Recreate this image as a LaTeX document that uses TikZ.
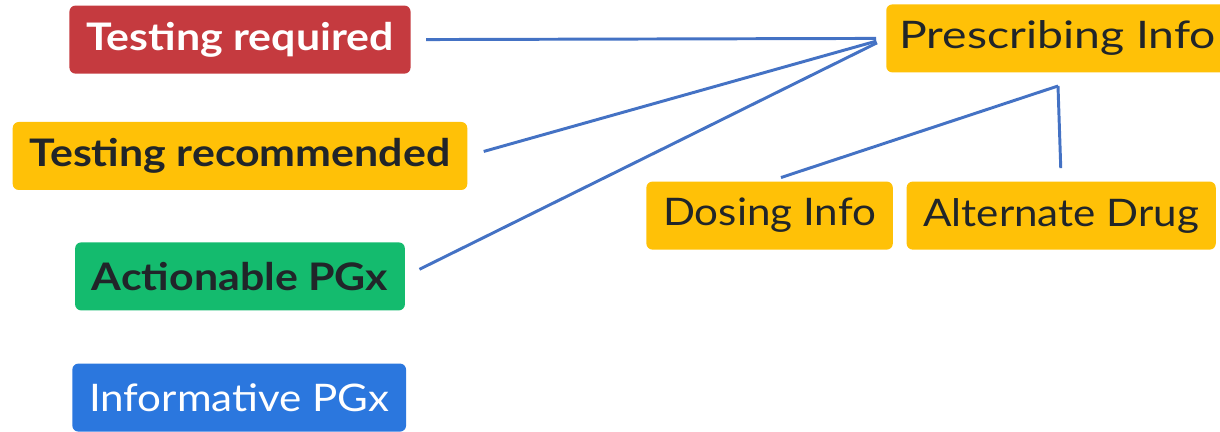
\documentclass[tikz,border=0pt]{standalone}
\usepackage{fontspec}
\setmainfont{Lato}[FakeStretch=1.11]
\newfontfamily\badgebold{Lato}[FakeStretch=1.13]
\newfontfamily\badgewide{Lato}[FakeStretch=1.22]
\usepackage{tikz}
\usetikzlibrary{positioning,calc}

\definecolor{badgered}{RGB}{197,58,63}
\definecolor{badgeyellow}{RGB}{255,193,7}
\definecolor{badgegreen}{RGB}{20,187,110}
\definecolor{badgeblue}{RGB}{43,119,222}
\definecolor{linkblue}{RGB}{68,114,196}
\definecolor{darktext}{RGB}{33,37,41}

\begin{document}
\begin{tikzpicture}[
  badge/.style={rounded corners=0.15cm, inner xsep=0.42cm, minimum height=1.7cm, font=\fontsize{27}{30}\selectfont},
  redb/.style={badge, fill=badgered, text=white, font=\fontsize{27}{30}\badgebold\bfseries},
  yellowb/.style={badge, fill=badgeyellow, text=darktext, font=\fontsize{27}{30}\badgebold\bfseries},
  greenb/.style={badge, fill=badgegreen, text=darktext, font=\fontsize{27}{30}\badgebold\bfseries},
  blueb/.style={badge, fill=badgeblue, text=white},
  infob/.style={badge, fill=badgeyellow, text=darktext},
  linkedge/.style={draw=linkblue, line width=2.1pt}
]
\useasboundingbox (0,0) rectangle (30.5,-10.8);

\node[redb] (nreq) at (6.00, -0.99) {Testing required};
\node[yellowb] (nrec) at (6.00, -3.90) {Testing recommended};
\node[greenb] (nact) at (6.00, -6.91) {Actionable PGx};
\node[blueb] (ninf) at (5.98, -9.94) {Informative PGx};
\node[infob, anchor=west, inner xsep=0.33cm, font=\fontsize{27}{30}\badgewide] (npre) at (22.15, -0.96) {Prescribing Info};
\node[infob] (ndos) at (19.24, -5.39) {Dosing Info};
\node[infob] (nalt) at (26.53, -5.39) {Alternate Drug};
\coordinate (fork) at (26.45, -2.15);

\draw[linkedge, shorten <=0.38cm, shorten >=0.25cm] (nreq.east) -- (npre.west);
\draw[linkedge, shorten <=0.42cm, shorten >=0.25cm] (nrec.east) -- (npre.west);
\draw[linkedge, shorten <=0.40cm, shorten >=0.25cm] (nact.east) -- (npre.west);
\draw[linkedge, shorten <=0.30cm] (ndos.north) -- (fork);
\draw[linkedge, shorten >=0.33cm] (fork) -- (nalt.north);

\end{tikzpicture}
\end{document}
